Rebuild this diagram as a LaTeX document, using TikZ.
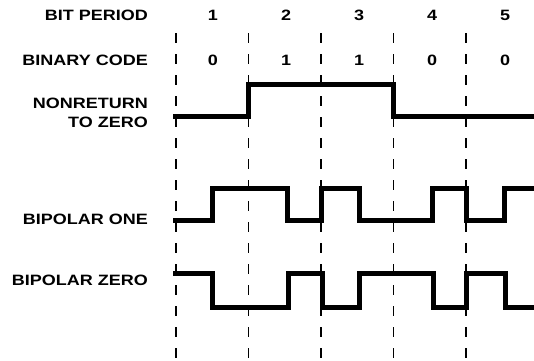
\documentclass[tikz,border=0pt]{standalone}
\usepackage{fontspec}
\newfontfamily\lblfont{Liberation Sans}[FakeStretch=1.2]
\begin{document}
\begin{tikzpicture}[x=1pt,y=-1pt,
    wave/.style={line width=5pt, line join=miter},
    border/.style={line width=1.8pt, dash pattern=on 10pt off 11pt},
    lbl/.style={inner sep=0pt, font=\lblfont\bfseries\fontsize{15}{18.5}\selectfont}]
    \useasboundingbox (0,0) rectangle (534,360);
    % bit borders
    \foreach \x in {176,248.5,321,393.5,466}
        \draw [border] (\x,33) -- (\x,360);
    % row labels
    \node [lbl, anchor=base east] (bitperiod) at (148,20.7) {BIT PERIOD};
    \node [lbl, anchor=base east] (binarycode) at (148,65) {BINARY CODE};
    \node [lbl, anchor=north east, align=right] (nrz) at (148,98) {NONRETURN\\TO ZERO};
    \node [lbl, anchor=base east] (bipone) at (148,224.5) {BIPOLAR ONE};
    \node [lbl, anchor=base east] (bipzero) at (148,285.5) {BIPOLAR ZERO};
    % period numbers and code
    \foreach \i/\x/\c in {1/213/0,2/286/1,3/359/1,4/432/0,5/505/0}{
        \node [lbl, anchor=base] (p\i) at (\x,20.7) {\i};
        \node [lbl, anchor=base] (c\i) at (\x,65) {\c};
    }
    % waveforms
    \draw [wave] (173,116) -- (248.5,116) -- (248.5,84) -- (393.5,84) -- (393.5,116) -- (535,116);
    \draw [wave] (173,220) -| (212,188) -| (287,220) -| (321,188) -| (359,220) -| (432,188) -| (466,220) -| (504,188) -- (535,188);
    \draw [wave] (173,273) -| (212,307) -| (288,273) -| (322,273) -- (322,307) -| (359,273) -| (433,307) -| (466,273) -| (505,307) -- (535,307);
\end{tikzpicture}
\end{document}
